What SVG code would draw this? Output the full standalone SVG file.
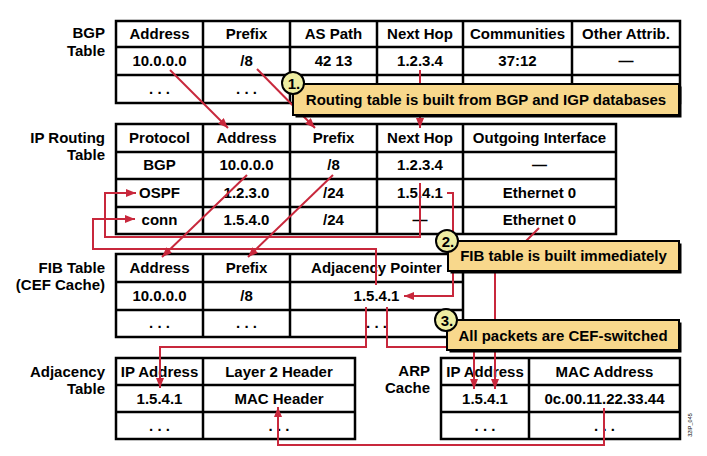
<svg xmlns="http://www.w3.org/2000/svg" width="707" height="456" viewBox="0 0 707 456">
<style>
text{font-family:"Liberation Sans",Arial,sans-serif;font-weight:bold;font-size:15px;fill:#000}
.c{text-anchor:middle}
.r{text-anchor:end}
.tbl{fill:#fff;stroke:#000;stroke-width:2.5}
.grid{fill:none;stroke:#000;stroke-width:2.5}
.con{fill:none;stroke:#c8283c;stroke-width:2}
.box{fill:#f8d88c;stroke:#000;stroke-width:2}
.shadow{fill:#000}
.num{fill:#eeeda2;stroke:#000;stroke-width:2}
.code{font-size:5.5px;font-weight:normal}
</style>
<defs>
<marker id="ah" viewBox="0 0 10 8" refX="10" refY="4" markerWidth="10" markerHeight="8" markerUnits="userSpaceOnUse" orient="auto">
<path d="M0,0 L10,4 L0,8 z" fill="#c8283c"/>
</marker>
</defs>
<rect width="707" height="456" fill="#fff"/>

<g id="bgp-table">
<text class="r" x="105" y="38">BGP</text>
<text class="r" x="105" y="56">Table</text>
<rect class="tbl" x="116" y="21" width="564" height="82"/>
<path class="grid" d="M116,47H680M116,75H680M203,21V103M290,21V103M377,21V103M463,21V103M572,21V103"/>
<text class="c" x="159.5" y="39">Address</text>
<text class="c" x="246.5" y="39">Prefix</text>
<text class="c" x="333.5" y="39">AS Path</text>
<text class="c" x="420" y="39">Next Hop</text>
<text class="c" x="517.5" y="39">Communities</text>
<text class="c" x="626" y="39">Other Attrib.</text>
<text class="c" x="159.5" y="66">10.0.0.0</text>
<text class="c" x="246.5" y="66">/8</text>
<text class="c" x="333.5" y="66">42 13</text>
<text class="c" x="420" y="66">1.2.3.4</text>
<text class="c" x="517.5" y="66">37:12</text>
<text class="c" x="626" y="66">—</text>
<text class="c" x="159.5" y="94">. . .</text>
<text class="c" x="246.5" y="94">. . .</text>
</g>

<g id="ip-routing-table">
<text class="r" x="105" y="143">IP Routing</text>
<text class="r" x="105" y="160">Table</text>
<rect class="tbl" x="116" y="124" width="500" height="110"/>
<path class="grid" d="M116,152H616M116,179H616M116,207H616M203,124V234M290,124V234M377,124V234M463,124V234"/>
<text class="c" x="159.5" y="143">Protocol</text>
<text class="c" x="246.5" y="143">Address</text>
<text class="c" x="333.5" y="143">Prefix</text>
<text class="c" x="420" y="143">Next Hop</text>
<text class="c" x="539.5" y="143">Outgoing Interface</text>
<text class="c" x="159.5" y="170">BGP</text>
<text class="c" x="246.5" y="170">10.0.0.0</text>
<text class="c" x="333.5" y="170">/8</text>
<text class="c" x="420" y="170">1.2.3.4</text>
<text class="c" x="539.5" y="170">—</text>
<text class="c" x="159.5" y="198">OSPF</text>
<text class="c" x="246.5" y="198">1.2.3.0</text>
<text class="c" x="333.5" y="198">/24</text>
<text class="c" x="420" y="198">1.5.4.1</text>
<text class="c" x="539.5" y="198">Ethernet 0</text>
<text class="c" x="159.5" y="225">conn</text>
<text class="c" x="246.5" y="225">1.5.4.0</text>
<text class="c" x="333.5" y="225">/24</text>
<text class="c" x="420" y="225">—</text>
<text class="c" x="539.5" y="225">Ethernet 0</text>
</g>

<g id="fib-table">
<text class="r" x="105" y="273">FIB Table</text>
<text class="r" x="105" y="290">(CEF Cache)</text>
<rect class="tbl" x="116" y="254" width="347" height="83"/>
<path class="grid" d="M116,282H463M116,310H463M203,254V337M290,254V337"/>
<text class="c" x="159.5" y="273">Address</text>
<text class="c" x="246.5" y="273">Prefix</text>
<text class="c" x="376.5" y="273">Adjacency Pointer</text>
<text class="c" x="159.5" y="301">10.0.0.0</text>
<text class="c" x="246.5" y="301">/8</text>
<text class="c" x="376.5" y="301">1.5.4.1</text>
<text class="c" x="159.5" y="328">. . .</text>
<text class="c" x="246.5" y="328">. . .</text>
<text class="c" x="376.5" y="328">. . .</text>
</g>

<g id="adjacency-table">
<text class="r" x="105" y="377">Adjacency</text>
<text class="r" x="105" y="394">Table</text>
<rect class="tbl" x="116" y="358" width="239" height="81"/>
<path class="grid" d="M116,385H355M116,412H355M203,358V439"/>
<text class="c" x="159.5" y="377">IP Address</text>
<text class="c" x="279" y="377">Layer 2 Header</text>
<text class="c" x="159.5" y="404">1.5.4.1</text>
<text class="c" x="279" y="404">MAC Header</text>
<text class="c" x="159.5" y="431">. . .</text>
<text class="c" x="279" y="431">. . .</text>
</g>

<g id="arp-cache">
<text class="r" x="430" y="376">ARP</text>
<text class="r" x="430" y="393">Cache</text>
<rect class="tbl" x="441" y="358" width="239" height="81"/>
<path class="grid" d="M441,385H680M441,412H680M529,358V439"/>
<text class="c" x="485" y="377">IP Address</text>
<text class="c" x="604.5" y="377">MAC Address</text>
<text class="c" x="485" y="404">1.5.4.1</text>
<text class="c" x="604.5" y="404">0c.00.11.22.33.44</text>
<text class="c" x="485" y="431">. . .</text>
<text class="c" x="604.5" y="431">. . .</text>
</g>

<g id="connectors">
<path class="con" marker-end="url(#ah)" d="M170,70 L228,128"/>
<path class="con" marker-end="url(#ah)" d="M257,69 L315,128"/>
<path class="con" marker-end="url(#ah)" d="M420,70 V128"/>
<path class="con" marker-end="url(#ah)" d="M247,175 L162,257"/>
<path class="con" marker-end="url(#ah)" d="M333,175 L248,257"/>
<path class="con" marker-end="url(#ah)" d="M420,183 V237 H105 V193 H136"/>
<path class="con" marker-end="url(#ah)" d="M447,193 H453 V296 H404"/>
<path class="con" marker-end="url(#ah)" d="M376,285 V249 H93 V219 H135"/>
<path class="con" marker-end="url(#ah)" d="M366,307 V347 H160 V388"/>
<path class="con" marker-end="url(#ah)" d="M387,307 V347 H474 V389"/>
<path class="con" marker-end="url(#ah)" d="M539,228 L495,272 V389"/>
<path class="con" marker-end="url(#ah)" d="M604,408 V445 H278 V407"/>
</g>

<g id="callout-1">
<rect class="shadow" x="295.5" y="86.5" width="386" height="31"/>
<rect class="box" x="293" y="84" width="386" height="31"/>
<circle class="num" cx="293" cy="83" r="11"/>
<text class="c" x="294" y="88.5">1.</text>
<text class="c" x="486" y="105">Routing table is built from BGP and IGP databases</text>
</g>

<g id="callout-2">
<rect class="shadow" x="450.5" y="243.5" width="231" height="30"/>
<rect class="box" x="448" y="241" width="231" height="30"/>
<circle class="num" cx="447" cy="241" r="11"/>
<text class="c" x="448" y="246.5">2.</text>
<text class="c" x="563.5" y="261">FIB table is built immediately</text>
</g>

<g id="callout-3">
<rect class="shadow" x="449.5" y="322.5" width="232" height="30"/>
<rect class="box" x="447" y="320" width="232" height="30"/>
<circle class="num" cx="446" cy="320" r="11"/>
<text class="c" x="447" y="325.5">3.</text>
<text class="c" x="563" y="341">All packets are CEF-switched</text>
</g>

<text class="code c" transform="translate(692,425) rotate(-90)">32IP_045</text>
</svg>
